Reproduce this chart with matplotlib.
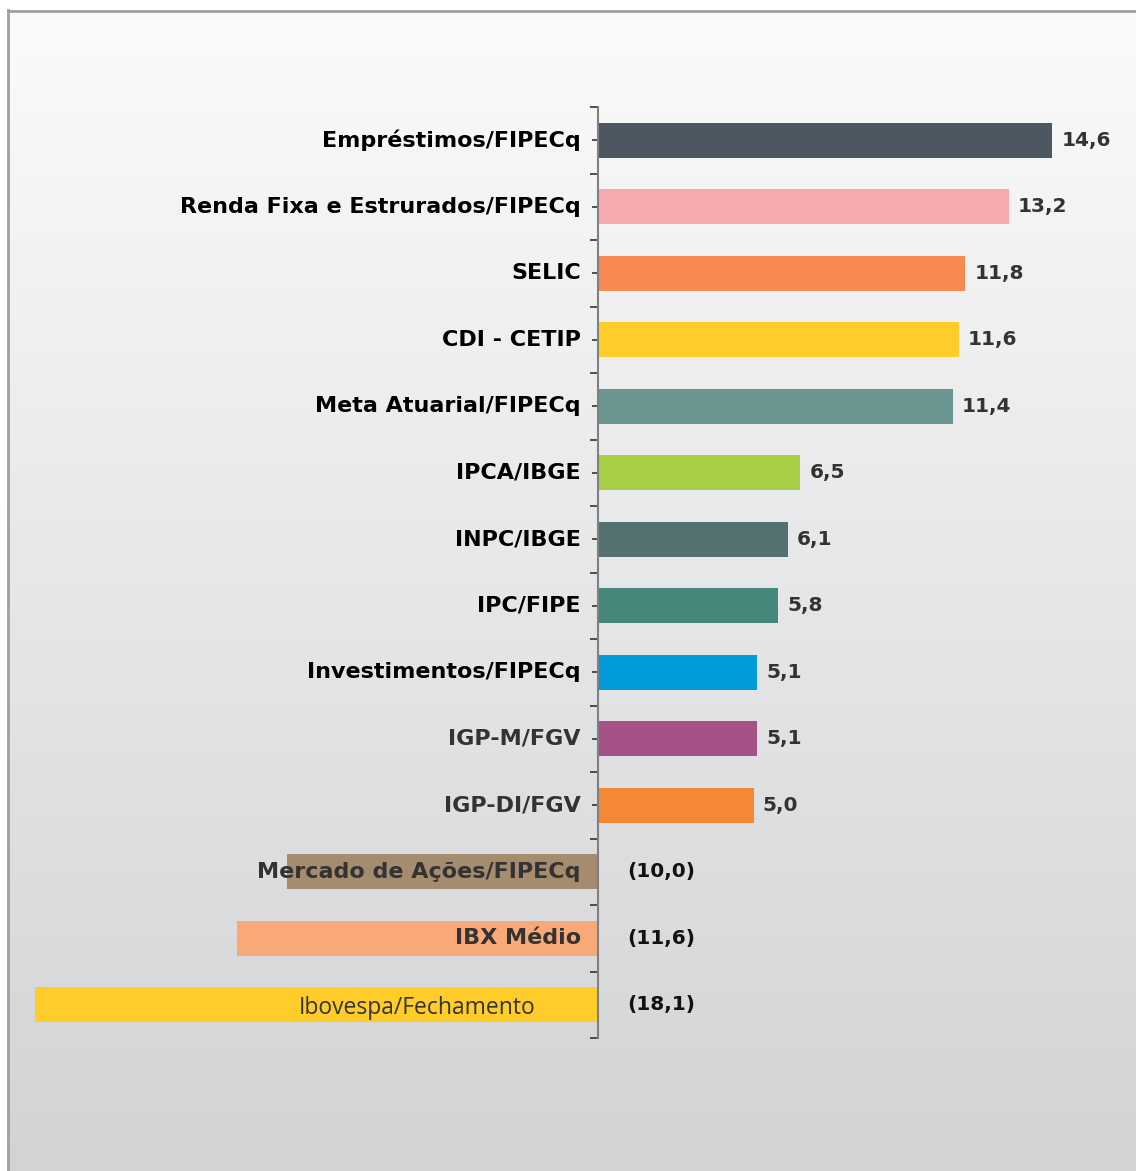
import numpy as np
import matplotlib
matplotlib.use("Agg")
import matplotlib.pyplot as plt
from matplotlib.patches import Rectangle
from matplotlib.ticker import FixedLocator

categories = ["Empréstimos/FIPECq", "Renda Fixa e Estrurados/FIPECq", "SELIC", "CDI - CETIP",
              "Meta Atuarial/FIPECq", "IPCA/IBGE", "INPC/IBGE", "IPC/FIPE",
              "Investimentos/FIPECq", "IGP-M/FGV", "IGP-DI/FGV",
              "Mercado de Ações/FIPECq", "IBX Médio", "Ibovespa/Fechamento"]
values = [14.6, 13.2, 11.8, 11.6, 11.4, 6.5, 6.1, 5.8, 5.1, 5.1, 5.0, -10.0, -11.6, -18.1]
value_labels = ["14,6", "13,2", "11,8", "11,6", "11,4", "6,5", "6,1", "5,8", "5,1", "5,1", "5,0",
                "(10,0)", "(11,6)", "(18,1)"]
colors = ["#4d5761", "#f7aaae", "#f68a52", "#ffcc29", "#6a9591", "#a7cf45", "#527170", "#45877a",
          "#009bdb", "#a65187", "#f58835", "#a58c6f", "#f9a978", "#ffcc29"]
label_colors = ["#000000"] * 9 + ["#333333"] * 5

W, H = 1136, 1171
fig = plt.figure(figsize=(W / 100, H / 100), dpi=100)

# background gradient
bg = fig.add_axes([0, 0, 1, 1], zorder=0)
grad = np.linspace(0, 1, 256).reshape(-1, 1)
top = np.array([0xfb, 0xfb, 0xfb]) / 255
bot = np.array([0xd2, 0xd3, 0xd5]) / 255
img = top[None, None, :] * (1 - grad[:, :, None]) + bot[None, None, :] * grad[:, :, None]
bg.imshow(img, aspect="auto", extent=[0, 1, 0, 1], origin="upper")
bg.set_xlim(0, 1)
bg.set_ylim(0, 1)
bg.axis("off")
bg.add_patch(Rectangle((0, 1 - 10 / H), 1, 10 / H, facecolor="white", edgecolor="none"))
bg.add_patch(Rectangle((0, 0), 7 / W, 1, facecolor="white", edgecolor="none"))
bg.plot([8 / W, 8 / W], [0, 1 - 10 / H], color="#a0a0a0", lw=2)
bg.plot([8 / W, 1], [1 - 11 / H, 1 - 11 / H], color="#a0a0a0", lw=2)

# main axes: 0 at x=598px, 31.1 px/unit
ppu = 31.1
ax_left_px, ax_right_px = 20, 1120
ax_top_px, ax_bot_px = 107, 1038
ax = fig.add_axes([ax_left_px / W, 1 - ax_bot_px / H, (ax_right_px - ax_left_px) / W,
                   (ax_bot_px - ax_top_px) / H], zorder=1)
ax.patch.set_alpha(0)
xmin = -(598 - ax_left_px) / ppu
xmax = (ax_right_px - 598) / ppu
ax.set_xlim(xmin, xmax)
n = len(categories)
ax.set_ylim(n - 0.5, -0.5)

y = np.arange(n)
ax.barh(y, values, height=0.52, color=colors, zorder=2)

bold_font = "DejaVu Sans"
for i, (v, lab) in enumerate(zip(values, value_labels)):
    if v >= 0:
        ax.text(v + 0.3, i, lab, ha="left", va="center", fontsize=14.5, fontweight="bold",
                color="#333333", family=bold_font)
    else:
        ax.text(0.95, i, lab, ha="left", va="center", fontsize=14.5, fontweight="bold",
                color="#111111", family=bold_font)

for i, cat in enumerate(categories):
    if cat == "Ibovespa/Fechamento":
        ax.text(-2.0, i + 0.05, cat, ha="right", va="center", fontsize=16.5,
                color="#333333", family="Open Sans")
    else:
        ax.text(-0.55, i, cat, ha="right", va="center", fontsize=16, fontweight="bold",
                color=label_colors[i], family=bold_font)

for s in ["top", "right", "bottom"]:
    ax.spines[s].set_visible(False)
ax.spines["left"].set_position(("data", 0))
ax.spines["left"].set_color("#808080")
ax.spines["left"].set_linewidth(1.5)
ax.set_xticks([])
ax.yaxis.set_major_locator(FixedLocator(np.arange(n + 1) - 0.5))
ax.yaxis.set_minor_locator(FixedLocator(np.arange(n)))
ax.tick_params(axis="y", which="major", direction="out", length=6, width=1.2,
               color="#333333", labelleft=False)
ax.tick_params(axis="y", which="minor", direction="out", length=4, width=1.2,
               color="#333333", labelleft=False)

fig.savefig("out.png", dpi=100)
